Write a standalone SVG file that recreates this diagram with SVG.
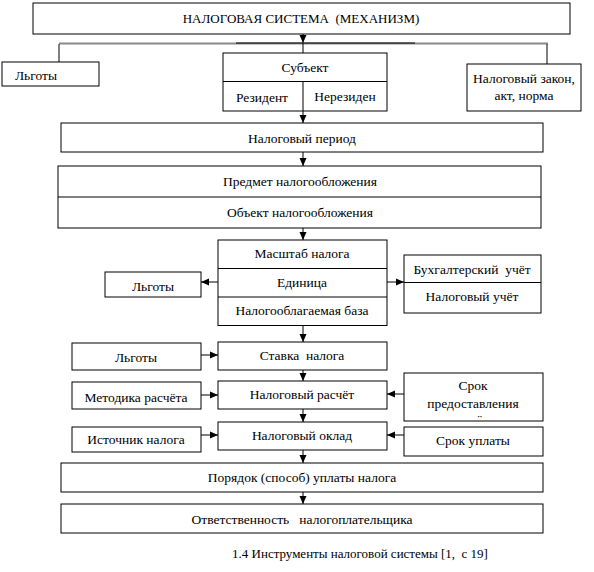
<svg xmlns="http://www.w3.org/2000/svg" width="594" height="572" viewBox="0 0 594 572">
<style>
.b{fill:#fff;stroke:#000;stroke-width:1}
.d{stroke:#000;stroke-width:1;fill:none}
.c{stroke:#000;stroke-width:1;fill:none;marker-end:url(#ah)}
.g{stroke:#8a8a8a;stroke-width:2;fill:none}
text{font-family:"Liberation Serif","Times New Roman",serif;font-size:13.5px;fill:#000;text-anchor:middle;dominant-baseline:central;white-space:pre}
</style>
<defs>
<marker id="ah" markerUnits="userSpaceOnUse" markerWidth="8" markerHeight="8" refX="8" refY="4" orient="auto">
<path d="M0,0.5 L8,4 L0,7.5 z" fill="#000"/>
</marker>
<clipPath id="cp"><rect x="404" y="373" width="139" height="45"/></clipPath>
</defs>
<rect width="594" height="572" fill="#fff"/>
<g id="connectors">
<path class="c" d="M303,34 V43"/>
<path class="g" d="M59,43.5 H548"/>
<path class="d" d="M236,43 H415"/>
<path class="d" d="M303,43 V53"/>
<path class="d" d="M59,44 V62"/>
<path class="d" d="M547,44 V64"/>
<path class="c" d="M303,111 V123"/>
<path class="c" d="M303,152 V166"/>
<path class="c" d="M303,228 V240"/>
<path class="c" d="M218,282 H201"/>
<path class="c" d="M387,282 H404"/>
<path class="c" d="M303,325 V342"/>
<path class="c" d="M201,355 H218"/>
<path class="c" d="M303,370 V381"/>
<path class="c" d="M201,395 H218"/>
<path class="c" d="M404,394 H387"/>
<path class="c" d="M303,409 V422"/>
<path class="c" d="M201,435 H218"/>
<path class="c" d="M404,435 H387"/>
<path class="c" d="M303,450 V463"/>
<path class="c" d="M303,492 V504"/>
</g>
<g id="n-system"><rect class="b" x="33" y="3" width="537" height="31"/><text x="301" y="18" style="font-size:13px">НАЛОГОВАЯ СИСТЕМА  (МЕХАНИЗМ)</text></g>
<g id="n-lgoty1"><rect class="b" x="2" y="62" width="97" height="24"/><text x="36" y="75">Льготы</text></g>
<g id="n-subject"><rect class="b" x="223" y="53" width="164" height="58"/><path class="d" d="M223,81.5 H387 M303,81.5 V111"/><text x="305" y="67">Субъект</text><text x="262" y="97">Резидент</text><text x="345" y="96">Нерезиден</text></g>
<g id="n-law"><rect class="b" x="467" y="64" width="114" height="47"/><text x="524" y="78">Налоговый закон,</text><text x="524" y="95">акт, норма</text></g>
<g id="n-period"><rect class="b" x="61" y="123" width="482" height="29"/><text x="302" y="138">Налоговый период</text></g>
<g id="n-predmet"><rect class="b" x="58" y="166" width="483" height="62"/><path class="d" d="M58,197 H541"/><text x="300" y="181">Предмет налогообложения</text><text x="300" y="212">Объект налогообложения</text></g>
<g id="n-scale"><rect class="b" x="218" y="240" width="169" height="85.5"/><path class="d" d="M218,268.5 H387 M218,297 H387"/><text x="302" y="253">Масштаб налога</text><text x="302" y="282">Единица</text><text x="302" y="310">Налогооблагаемая база</text></g>
<g id="n-lgoty2"><rect class="b" x="105" y="272" width="96" height="25"/><text x="153" y="286">Льготы</text></g>
<g id="n-uchet"><rect class="b" x="404" y="255" width="137" height="58"/><path class="d" d="M404,282.5 H541"/><text x="472" y="269">Бухгалтерский  учёт</text><text x="472" y="296">Налоговый учёт</text></g>
<g id="n-stavka"><rect class="b" x="218" y="342" width="169" height="28"/><text x="302" y="355">Ставка  налога</text></g>
<g id="n-lgoty3"><rect class="b" x="72" y="343" width="129" height="27"/><text x="136" y="357">Льготы</text></g>
<g id="n-raschet"><rect class="b" x="218" y="381" width="169" height="28"/><text x="302" y="394">Налоговый расчёт</text></g>
<g id="n-metodika"><rect class="b" x="72" y="382" width="129" height="27"/><text x="136" y="397">Методика расчёта</text></g>
<g id="n-srok1"><rect class="b" x="404" y="373" width="139" height="48"/><g clip-path="url(#cp)"><text x="473" y="385">Срок</text><text x="473" y="403">предоставления</text><text x="473" y="419">расчёта</text></g></g>
<g id="n-oklad"><rect class="b" x="218" y="422" width="169" height="28"/><text x="302" y="435">Налоговый оклад</text></g>
<g id="n-istochnik"><rect class="b" x="72" y="427" width="129" height="25"/><text x="136" y="439">Источник налога</text></g>
<g id="n-srok2"><rect class="b" x="404" y="427" width="139" height="29"/><text x="473" y="440">Срок уплаты</text></g>
<g id="n-poryadok"><rect class="b" x="61" y="463" width="482" height="29"/><text x="302" y="477">Порядок (способ) уплаты налога</text></g>
<g id="n-otvet"><rect class="b" x="61" y="504" width="482" height="29"/><text x="302" y="519">Ответственность   налогоплательщика</text></g>
<text x="360" y="553" style="font-size:13px">1.4 Инструменты налоговой системы [1,  с 19]</text>
</svg>
